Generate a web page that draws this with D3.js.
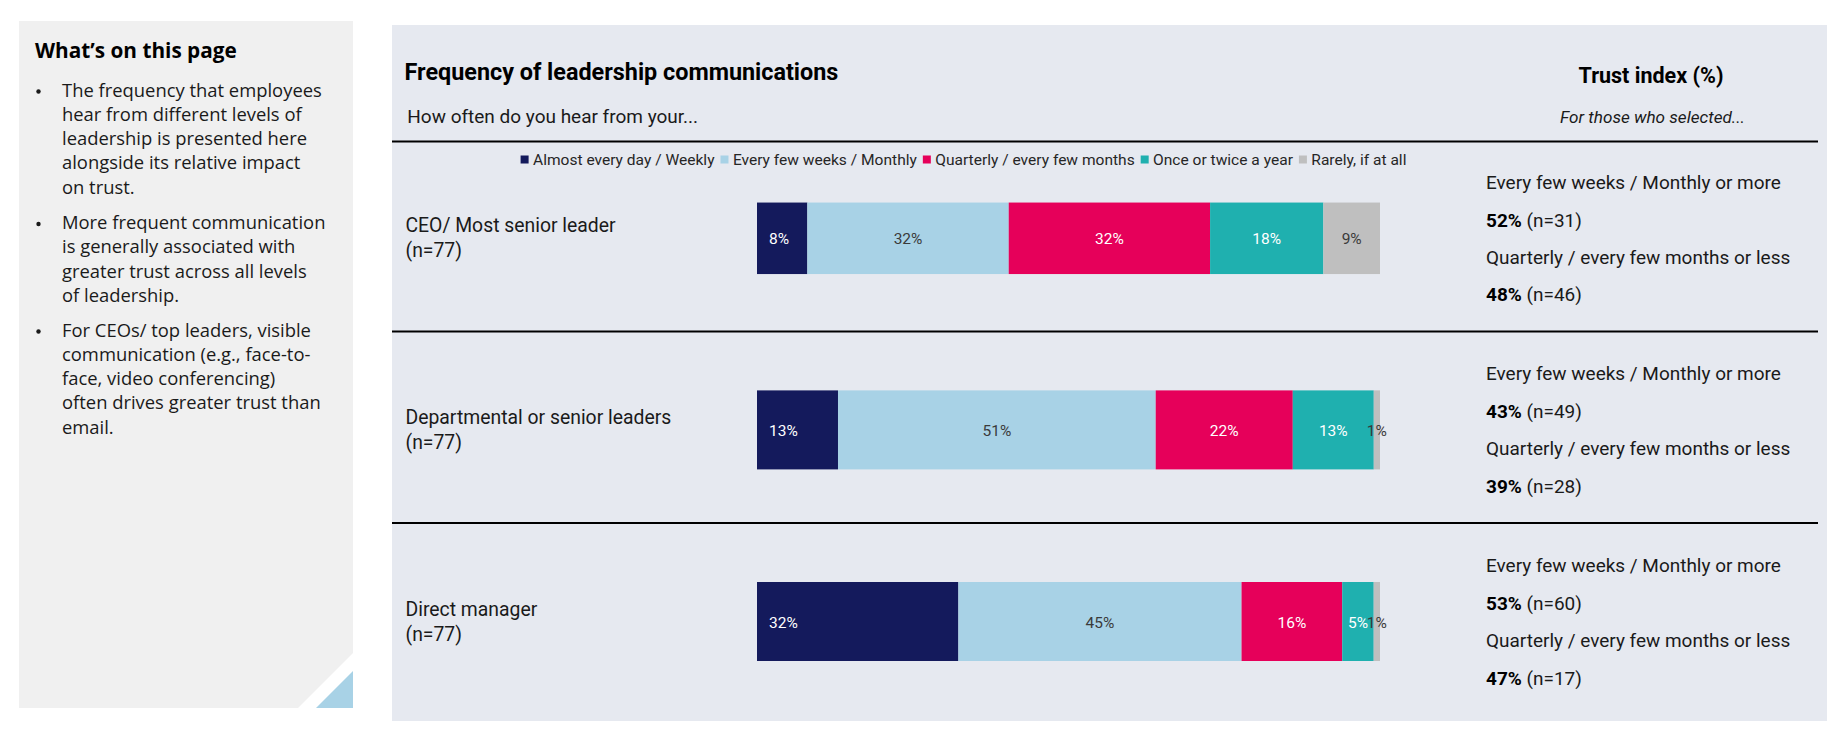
<!DOCTYPE html>
<html>
<head>
<meta charset="utf-8">
<script src="https://cdn.jsdelivr.net/npm/d3@7"></script>
<style>
  html, body { margin: 0; padding: 0; background: #ffffff; }
  svg { display: block; }
</style>
</head>
<body>
<svg id="chart" width="1845" height="738"></svg>
<script>
// ---------------- DATA ----------------
const categories = ["CEO/ Most senior leader", "Departmental or senior leaders", "Direct manager"];
const sampleSizes = ["(n=77)", "(n=77)", "(n=77)"];
const seriesNames = ["Almost every day / Weekly", "Every few weeks / Monthly", "Quarterly / every few months", "Once or twice a year", "Rarely, if at all"];
const dailyWeekly = [8, 13, 32];
const fewWeeksMonthly = [32, 51, 45];
const quarterly = [32, 22, 16];
const onceTwiceYear = [18, 13, 5];
const rarely = [9, 1, 1];
const seriesColors = ["#141a5c", "#a8d2e6", "#e6005a", "#1fb0af", "#bfbfbf"];
const labelColors = ["#ffffff", "#3a3a3a", "#ffffff", "#ffffff", "#3a3a3a"];

const trustGroupLabels = ["Every few weeks / Monthly or more", "Quarterly / every few months or less"];
const trustFrequentPct = [52, 43, 53];
const trustFrequentN = [31, 49, 60];
const trustInfrequentPct = [48, 39, 47];
const trustInfrequentN = [46, 28, 17];

const sideTitle = "What\u2019s on this page";
const sideBullets = [
  ["The frequency that employees", "hear from different levels of", "leadership is presented here", "alongside its relative impact", "on trust."],
  ["More frequent communication", "is generally associated with", "greater trust across all levels", "of leadership."],
  ["For CEOs/ top leaders, visible", "communication (e.g., face-to-", "face, video conferencing)", "often drives greater trust than", "email."]
];
const chartTitle = "Frequency of leadership communications";
const chartSubtitle = "How often do you hear from your...";
const trustTitle = "Trust index (%)";
const trustSubtitle = "For those who selected...";

// ---------------- SETUP ----------------
const svg = d3.select("#chart");
const MAIN = "Roboto, 'Noto Sans', sans-serif";
const SIDE = "'Open Sans', 'Noto Sans', sans-serif";
const INK = "#1a1a1a";

const measurer = svg.append("text").attr("visibility", "hidden");
function fitSize(text, family, weight, style, target) {
  measurer.attr("font-family", family).attr("font-weight", weight)
    .attr("font-style", style).attr("font-size", 100).text(text);
  const w = measurer.node().getComputedTextLength();
  return 100 * target / w;
}

// ---------------- LEFT PANEL ----------------
const side = svg.append("g");
side.append("path")
  .attr("d", "M19,21 L353,21 L353,653 L298,708 L19,708 Z")
  .attr("fill", "#f0f0f0");
side.append("path")
  .attr("d", "M316,708 L353,708 L353,671 Z")
  .attr("fill", "#a8d2e6");

const sideTitleSize = fitSize(sideTitle, SIDE, 700, "normal", 202);
side.append("text").attr("x", 35).attr("y", 57.5)
  .attr("font-family", SIDE).attr("font-weight", 700).attr("font-size", sideTitleSize)
  .attr("fill", "#000").text(sideTitle);

const sideBodySize = fitSize(sideBullets[0][0], SIDE, 400, "normal", 260);
const paraStarts = [96.5, 229, 336.5];
const lineStep = 24.3;
sideBullets.forEach((lines, pi) => {
  side.append("circle").attr("cx", 38.5).attr("cy", paraStarts[pi] - 5).attr("r", 2.2).attr("fill", INK);
  lines.forEach((ln, li) => {
    side.append("text").attr("x", 62).attr("y", paraStarts[pi] + li * lineStep)
      .attr("font-family", SIDE).attr("font-size", sideBodySize).attr("fill", INK).text(ln);
  });
});

// ---------------- RIGHT PANEL ----------------
svg.append("rect").attr("x", 392).attr("y", 25).attr("width", 1435).attr("height", 696).attr("fill", "#e6e9f0");

const titleSize = fitSize(chartTitle, MAIN, 700, "normal", 434);
svg.append("text").attr("x", 404.5).attr("y", 71.7).attr("dominant-baseline", "central")
  .attr("font-family", MAIN).attr("font-weight", 700).attr("font-size", titleSize)
  .attr("fill", "#000").text(chartTitle);

const subSize = fitSize(chartSubtitle, MAIN, 400, "normal", 291);
svg.append("text").attr("x", 407.3).attr("y", 116.7).attr("dominant-baseline", "central")
  .attr("font-family", MAIN).attr("font-size", subSize).attr("fill", INK).text(chartSubtitle);

const trustTitleSize = fitSize(trustTitle, MAIN, 700, "normal", 145);
svg.append("text").attr("x", 1651).attr("y", 75).attr("text-anchor", "middle").attr("dominant-baseline", "central")
  .attr("font-family", MAIN).attr("font-weight", 700).attr("font-size", trustTitleSize)
  .attr("fill", "#000").text(trustTitle);

const trustSubSize = fitSize(trustSubtitle, MAIN, 400, "italic", 185);
svg.append("text").attr("x", 1652.5).attr("y", 116.7).attr("text-anchor", "middle").attr("dominant-baseline", "central")
  .attr("font-family", MAIN).attr("font-style", "italic").attr("font-size", trustSubSize)
  .attr("fill", INK).text(trustSubtitle);

// ---------------- SCALES ----------------
const rowPoint = d3.scalePoint().domain(categories).range([238.3, 621.5]);
const rowCenter = c => rowPoint(c);
const SECTION_HALF = 97.5;
const x = d3.scaleLinear().domain([0, 1]).range([757, 1380]);
const color = d3.scaleOrdinal().domain(seriesNames).range(seriesColors);
const labelColor = d3.scaleOrdinal().domain(seriesNames).range(labelColors);

const table = categories.map((c, i) => ({
  category: c,
  [seriesNames[0]]: dailyWeekly[i],
  [seriesNames[1]]: fewWeeksMonthly[i],
  [seriesNames[2]]: quarterly[i],
  [seriesNames[3]]: onceTwiceYear[i],
  [seriesNames[4]]: rarely[i]
}));
const stacked = d3.stack().keys(seriesNames).offset(d3.stackOffsetExpand)(table);

const BAR_H = 79;
const LEGEND_TRIM = 7.5;
const barH = c => (c === categories[0] ? BAR_H - LEGEND_TRIM : BAR_H);
const barTop = c => rowCenter(c) - barH(c) / 2;

// separator lines (top of each row section)
const sepYs = categories.map((c, i) => i === 0 ? 141.5 : rowCenter(c) - SECTION_HALF - 1);
svg.append("g").selectAll("line").data(sepYs).join("line")
  .attr("x1", 392).attr("x2", 1818).attr("y1", d => d).attr("y2", d => d)
  .attr("stroke", "#000").attr("stroke-width", 2);

// ---------------- LEGEND ----------------
const legendSize = fitSize(seriesNames[3], MAIN, 400, "normal", 140);
const legend = svg.append("g");
let lx = 520.6;
seriesNames.forEach(name => {
  legend.append("rect").attr("x", lx).attr("y", 159.5 - 4).attr("width", 8).attr("height", 8).attr("fill", color(name));
  const t = legend.append("text").attr("x", lx + 12.4).attr("y", 159.5).attr("dominant-baseline", "central")
    .attr("font-family", MAIN).attr("font-size", legendSize).attr("fill", "#262626").text(name);
  lx = lx + 12.4 + t.node().getComputedTextLength() + 6;
});

// ---------------- BARS ----------------
const barLabelSize = 15.5;
const bars = svg.append("g");
stacked.forEach(layer => {
  const key = layer.key;
  bars.selectAll(null).data(layer).join("rect")
    .attr("x", d => x(d[0]))
    .attr("y", d => barTop(d.data.category))
    .attr("width", d => x(d[1]) - x(d[0]))
    .attr("height", d => barH(d.data.category))
    .attr("fill", color(key));
});
stacked.forEach((layer, si) => {
  const key = layer.key;
  bars.selectAll(null).data(layer).join("text")
    .attr("x", d => si === 0 ? x(d[0]) + 12 : (x(d[0]) + x(d[1])) / 2)
    .attr("y", d => rowCenter(d.data.category) + 1)
    .attr("text-anchor", si === 0 ? "start" : "middle")
    .attr("dominant-baseline", "central")
    .attr("font-family", MAIN).attr("font-size", barLabelSize)
    .attr("fill", labelColor(key))
    .text(d => d.data[key] + "%");
});

// ---------------- ROW LABELS ----------------
const rowLabelSize = fitSize(categories[1], MAIN, 400, "normal", 266);
categories.forEach((c, i) => {
  const g = svg.append("g");
  g.append("text").attr("x", 405.5).attr("y", rowCenter(c) - 12.5).attr("dominant-baseline", "central")
    .attr("font-family", MAIN).attr("font-size", rowLabelSize).attr("fill", INK).text(c);
  g.append("text").attr("x", 405.5).attr("y", rowCenter(c) + 12.5).attr("dominant-baseline", "central")
    .attr("font-family", MAIN).attr("font-size", rowLabelSize).attr("fill", INK).text(sampleSizes[i]);
});

// ---------------- TRUST INDEX ----------------
const trustSize = fitSize(trustGroupLabels[0], MAIN, 400, "normal", 295);
const trustOffsets = [-56, -18.7, 18.7, 56];
categories.forEach((c, i) => {
  const cy = rowCenter(c);
  const rows = [
    { label: trustGroupLabels[0] },
    { pct: trustFrequentPct[i], n: trustFrequentN[i] },
    { label: trustGroupLabels[1] },
    { pct: trustInfrequentPct[i], n: trustInfrequentN[i] }
  ];
  rows.forEach((r, k) => {
    const t = svg.append("text").attr("x", 1486).attr("y", cy + trustOffsets[k])
      .attr("dominant-baseline", "central")
      .attr("font-family", MAIN).attr("font-size", trustSize).attr("fill", INK);
    if (r.label) {
      t.text(r.label);
    } else {
      t.append("tspan").attr("font-weight", 700).attr("fill", "#000").text(r.pct + "%");
      t.append("tspan").text(" (n=" + r.n + ")");
    }
  });
});

measurer.remove();
</script>
</body>
</html>
